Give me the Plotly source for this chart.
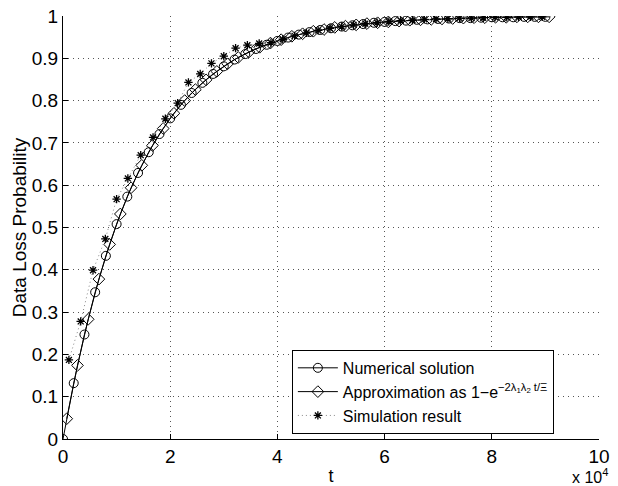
import plotly.graph_objects as go

# t in units of 10^4
t_num = [0.0, 0.2, 0.4, 0.6, 0.8, 1.0, 1.2, 1.4, 1.6, 1.8, 2.0, 2.2, 2.4, 2.6, 2.8, 3.0,
         3.2, 3.4, 3.6, 3.8, 4.0, 4.2, 4.4, 4.6, 4.8, 5.0, 5.2, 5.4, 5.6, 5.8, 6.0, 6.2,
         6.4, 6.6, 6.8, 7.0, 7.2, 7.4, 7.6, 7.8, 8.0, 8.2, 8.4, 8.6, 8.8, 9.0]
p_num = [0.000, 0.132, 0.247, 0.347, 0.433, 0.508, 0.573, 0.629, 0.678, 0.721, 0.758,
         0.790, 0.818, 0.842, 0.863, 0.881, 0.897, 0.910, 0.922, 0.932, 0.941, 0.949,
         0.956, 0.962, 0.967, 0.971, 0.975, 0.978, 0.981, 0.984, 0.986, 0.988, 0.989,
         0.991, 0.992, 0.993, 0.994, 0.995, 0.995, 0.996, 0.997, 0.997, 0.997, 0.998,
         0.998, 0.998]

t_app = [0.07, 0.27, 0.47, 0.67, 0.87, 1.07, 1.27, 1.47, 1.67, 1.87, 2.07, 2.27, 2.47,
         2.67, 2.87, 3.07, 3.27, 3.47, 3.67, 3.87, 4.07, 4.27, 4.47, 4.67, 4.87, 5.07,
         5.27, 5.47, 5.67, 5.87, 6.07, 6.27, 6.47, 6.67, 6.87, 7.07, 7.27, 7.47, 7.67,
         7.87, 8.07, 8.27, 8.47, 8.67, 8.87, 9.07]
p_app = [0.048, 0.174, 0.283, 0.378, 0.460, 0.532, 0.594, 0.647, 0.694, 0.734, 0.770,
         0.800, 0.826, 0.849, 0.869, 0.887, 0.902, 0.915, 0.926, 0.936, 0.944, 0.952,
         0.958, 0.964, 0.968, 0.973, 0.976, 0.979, 0.982, 0.984, 0.986, 0.988, 0.990,
         0.991, 0.992, 0.993, 0.994, 0.995, 0.996, 0.996, 0.997, 0.997, 0.998, 0.998,
         0.998, 0.998]

t_sim = [0.11, 0.33, 0.56, 0.79, 1.00, 1.21, 1.45, 1.68, 1.91, 2.14, 2.34, 2.56, 2.77,
         3.00, 3.22, 3.44, 3.66, 3.88, 4.10, 4.32, 4.54, 4.76, 4.98, 5.20, 5.42, 5.64,
         5.86, 6.08, 6.30, 6.52, 6.74, 6.96, 7.18, 7.40, 7.62, 7.84, 8.06, 8.28, 8.50,
         8.72, 8.94]
p_sim = [0.187, 0.278, 0.399, 0.473, 0.567, 0.616, 0.671, 0.713, 0.757, 0.794, 0.843,
         0.863, 0.888, 0.905, 0.924, 0.931, 0.935, 0.937, 0.945, 0.953, 0.960, 0.966,
         0.971, 0.975, 0.979, 0.982, 0.984, 0.987, 0.989, 0.990, 0.992, 0.993, 0.994,
         0.995, 0.995, 0.996, 0.997, 0.997, 0.998, 0.998, 0.998]

x_ticks = [0, 2, 4, 6, 8, 10]
y_ticks = [0, 0.1, 0.2, 0.3, 0.4, 0.5, 0.6, 0.7, 0.8, 0.9, 1]

FONT = "Liberation Sans, Arial, sans-serif"

fig = go.Figure()
fig.add_trace(go.Scatter(
    x=t_num, y=p_num, mode="lines+markers", name="Numerical solution",
    line=dict(color="black", width=1),
    marker=dict(symbol="circle-open", size=9, color="black", line=dict(width=1, color="black")),
))
fig.add_trace(go.Scatter(
    x=t_app, y=p_app, mode="lines+markers",
    name="Approximation as 1\u2212e<sup>\u22122\u03bb<sub>1</sub>\u03bb<sub>2</sub> t/\u039e</sup>",
    line=dict(color="black", width=1),
    marker=dict(symbol="diamond-open", size=9, color="black", line=dict(width=1, color="black")),
))
fig.add_trace(go.Scatter(
    x=t_sim, y=p_sim, mode="lines+markers", name="Simulation result",
    line=dict(color="#888888", width=1, dash="1px,3px"),
    marker=dict(symbol="asterisk-open", size=7, color="black", line=dict(width=1.3, color="black")),
))

axis_common = dict(
    showline=True, linecolor="black", linewidth=1,
    ticks="inside", ticklen=5, tickcolor="black",
    showgrid=True, gridcolor="#555555", gridwidth=1, griddash="1px,4px",
    zeroline=False, automargin=False,
    tickfont=dict(family=FONT, size=19, color="black"),
)

fig.update_xaxes(range=[0, 10], tickvals=x_ticks, ticktext=[str(v) for v in x_ticks],
                 title=dict(text="t", font=dict(family=FONT, size=18, color="black"), standoff=4),
                 **axis_common)
fig.update_yaxes(range=[0, 1], tickvals=y_ticks, ticktext=[("%g" % v) for v in y_ticks],
                 title=dict(text="Data Loss Probability", font=dict(family=FONT, size=19, color="black"), standoff=0),
                 **axis_common)

fig.add_annotation(x=1.02, y=-0.058, xref="paper", yref="paper", xanchor="right", yanchor="top",
                   text="x 10<sup>4</sup>", showarrow=False,
                   font=dict(family=FONT, size=16, color="black"))

fig.update_layout(
    width=618, height=486,
    margin=dict(l=63, r=19, t=16, b=47, autoexpand=False),
    plot_bgcolor="white", paper_bgcolor="white",
    font=dict(family=FONT, size=17, color="black"),
    legend=dict(x=0.427, y=0.012, xanchor="left", yanchor="bottom",
                bordercolor="black", borderwidth=1, bgcolor="white",
                font=dict(family=FONT, size=16, color="black"),
                tracegroupgap=0, itemwidth=40),
    showlegend=True,
)

fig.write_html("out.html")
